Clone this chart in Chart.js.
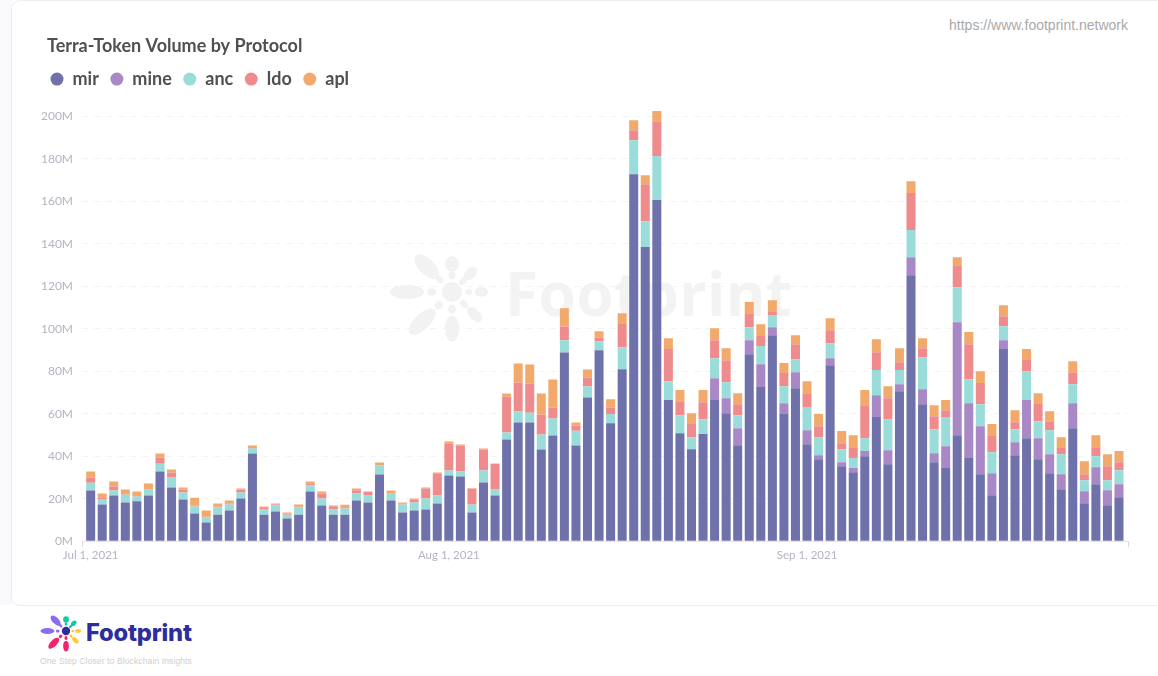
<!DOCTYPE html>
<html><head><meta charset="utf-8">
<script src="https://cdn.jsdelivr.net/npm/chart.js@4"></script>
<style>
html,body{margin:0;padding:0;background:#fff;width:1158px;height:676px;overflow:hidden}
#page{position:relative;width:1158px;height:676px;background:#fff}
#bg{position:absolute;left:0;top:0;width:12px;height:605px;background:#f9f9fb}
#card{position:absolute;left:11px;top:0;width:1160px;height:604px;border:1px solid #eeeef0;border-radius:9px;background:#fff;box-sizing:content-box}
#wmtext{position:absolute;left:505px;top:254px;font:700 60.5px/78px "Open Sans",sans-serif;color:#f3f3f3;letter-spacing:.3px}
#wmlogo{position:absolute;left:400px;top:246px}
#url{position:absolute;right:30px;top:16px;font:14px/18px "Liberation Sans",Arial,sans-serif;color:#a9a9a9}
#logo{position:absolute;left:44px;top:612px}
#brand{position:absolute;left:86px;top:618px;font:800 23.7px/30px "Inter","Open Sans",sans-serif;color:#2d2d9e;letter-spacing:-.2px}
#tag{position:absolute;left:40px;top:655px;font:8.5px/12px "Liberation Sans",Arial,sans-serif;color:#cfcfcf;letter-spacing:.12px}
canvas{position:absolute;left:0;top:0}
</style></head><body>
<div id="page">
<div id="bg"></div><div id="card"></div>
<svg id="wmlogo" width="104" height="92" viewBox="-52 -46 104 92" style="overflow:visible"><g fill="#f2f2f2" id="wmg"></g></svg>
<div id="wmtext">Footprint</div>
<div id="url">https://www.footprint.network</div>
<svg id="logo" width="44" height="38" viewBox="-22 -19 44 38" style="overflow:visible"><g id="lg"></g></svg>
<div id="brand">Footprint</div>
<div id="tag">One Step Closer to Blockchain Insights</div>
<canvas id="c" width="1158" height="676"></canvas>
</div>
<script>
const title = 'Terra-Token Volume by Protocol';
const tickDates = ['2021-07-01','2021-08-01','2021-09-01'];
const tickLabels = ['Jul 1, 2021','Aug 1, 2021','Sep 1, 2021'];
const firstDay = '2021-07-01';
const mir = [23.8,17.3,21.5,18.2,18.8,21.5,32.8,25.3,19.6,13,8.8,12.5,14.4,20.1,41.3,12.5,14,10.7,12.5,23.4,16.8,12.5,12.5,19.1,18.2,31.4,19.1,13.5,14.4,14.9,17.7,30.9,30.4,13.5,27.6,21.5,47.8,55.8,55.8,43.1,49.7,88.8,45,67.6,89.9,55.5,80.9,172.7,138.4,160.5,66.4,50.8,43.3,50.4,66.4,60.2,45.2,88,72.5,96.9,59.8,72,45.6,38.6,82.8,35.3,32.5,40,58.4,36.2,70.6,125.2,64.5,37.2,34.4,49.9,39.1,31.5,21.6,90.4,40.5,48.5,38.6,32,24.5,53.2,17.9,26.8,16.9,20.7];
const mine = [0,0,0,0,0,0,0,0,0,0,0,0,0,0,0,0,0,0,0,0,0,0,0,0,0,0,0,0,0,0,0,0,0,0,0,0,0,0,0,0,0,0,0,0,0,0,0,0,0,0,0,0,0,0,10.3,7.1,8,6.6,10.8,3.8,5.1,7.5,6.6,1.9,3.3,1.9,1.9,2.4,10.3,6.6,3.3,8.4,7,4.2,10.3,53.1,25.8,22.6,10.4,4.2,6.1,17.9,9.9,8.9,7,11.7,5.6,8,7.1,6.1];
const anc = [3.7,2.6,2.3,3.6,2.2,2.8,3.7,4.7,3.3,3.3,2.3,3.3,2.9,2.8,2.3,2.4,2.8,1.8,3.3,2.8,3.3,2.4,2.9,3.3,3.3,4.2,3.3,3.8,3.8,5.2,3.8,2.4,2.4,3.8,5.7,2.8,3.3,5.2,4.7,7.1,8,5.8,7,5.2,4.2,4.3,10.4,16,12.2,20.7,8.9,8.5,5.6,7,9.4,7.5,6.1,6.1,8.5,5.7,8,6.1,10.9,8.4,7.1,6.1,4.7,6.1,11.8,14.6,6.6,12.8,15.1,11.3,13.7,16.5,11.3,10.4,9.9,6.6,6.1,13.6,8,11.3,9.4,9,5.2,5.2,4.7,6.6];
const ldo = [2.5,0.5,1.9,0.3,0.3,0.3,2.9,2.3,1.4,0.5,0.4,0.4,0.3,1.4,0.3,1.1,0.5,0.5,0.4,0.9,2.3,1.6,0.6,1.6,1.6,0.3,0.3,0.3,1.4,4.7,10.5,12.7,12.1,7.5,9.8,12.2,16.9,13.7,13.7,9.4,5.2,6.4,2.4,4.2,1.7,3.1,11.3,4.7,17.4,16.4,15.1,6.6,6.6,8,8.5,10.4,5.2,6.6,4.7,1.8,6.2,7.1,6.5,5.2,6.1,2.8,4.7,15.5,8.4,9.9,3.7,17.4,4.2,6.1,3.2,10.4,16.5,9.9,8,4.7,3.3,5.6,8.4,4.3,3.3,5.6,2.8,4.2,6.6,3.8];
const apl = [2.8,2,2.4,2.2,2.1,2.5,1.9,1.4,1,3.7,2.9,1.5,1.5,0.5,1.1,0.3,0.4,0.5,1.1,1,1,0.3,1.2,0.8,0.3,1.1,1.1,0.6,0.5,0.5,0.3,0.9,0.6,0.1,0.5,0.1,1.5,8.9,8.9,9.9,13.2,8.6,1.4,3.8,3,3.9,4.7,4.7,4.2,4.8,5.1,5.2,4.7,5.7,5.6,5.6,5.1,5.2,5.6,5.2,4.7,4.2,5.7,5.7,5.6,5.7,6.1,7.1,6.1,5.6,6.6,5.6,4.7,5.2,4.8,3.7,5.7,5.6,5.2,5.1,5.6,4.8,4.7,4.7,4.7,5.2,6.1,5.7,5.6,5.2];
const names = ['mir','mine','anc','ldo','apl'];
const colors = ['#6f71aa','#a988c6','#99dcd9','#ef8b8d','#f2aa6c'];
const yTop = 208.5, yStep = 20;

const DAY = 86400000;
const t0 = Date.parse(firstDay);
const days = mir.map((_, i) => t0 + i * DAY);
const tickVals = tickDates.map(d => Date.parse(d));

function petals(g, cols, s){
  const outer = [[180,29,11,4.5],[225,23,10,5],[270,18,5,4.5],[315,17,5,3.5],[0,19,4.5,3],[45,20.5,6,3.5],[90,23.6,8.5,4.5],[135,27,11,5]];
  const inner = [[180,13,3,2.5],[225,11.5,3,2],[270,10.8,2.5,2.2],[315,10,3,2],[0,10.8,2.2,2],[45,11,3,2],[90,11,3,2.5],[135,12,3,2.4]];
  let h = '';
  outer.concat(inner).forEach((p,i)=>{ h += `<ellipse transform="rotate(${p[0]}) translate(${p[1]*s} 0)" rx="${p[2]*s}" ry="${p[3]*s}" fill="${cols[i%8]}"/>`; });
  h += `<circle r="${6.5*s}" fill="${cols[8]}"/>`;
  g.innerHTML = h;
}
petals(document.getElementById('wmg'), Array(9).fill('#f2f2f2'), 1.55);
petals(document.getElementById('lg'), ['#8b6cf0','#8b6cf0','#10c9a8','#10c9a8','#ffc933','#ffc933','#f0246e','#f0246e','#2d2d9e'], 0.64);

const cornerTicks = {
  id: 'cornerTicks',
  afterLayout(chart){ const t = chart.titleBlock; t.right += 47 - t.left; t.left = 47; },
  afterDraw(chart){
    const s = chart.scales.x, c = chart.ctx;
    c.save(); c.strokeStyle = '#d9d9e3'; c.lineWidth = 1;
    [s.left, s.right].forEach(x => { c.beginPath(); c.moveTo(Math.round(x)+.5, s.top); c.lineTo(Math.round(x)+.5, s.top+6); c.stroke(); });
    c.restore();
  }
};

new Chart(document.getElementById('c'), {
  type: 'bar',
  data: {
    labels: days,
    datasets: [mir, mine, anc, ldo, apl].map((d, i) => ({
      label: names[i], data: d, backgroundColor: colors[i], borderWidth: 0,
      stack: 's', categoryPercentage: 1, barPercentage: 0.78
    }))
  },
  plugins: [cornerTicks],
  options: {
    responsive: false, animation: false, devicePixelRatio: 1,
    layout: { padding: { left: 39, right: 30, top: 35, bottom: 107 } },
    plugins: {
      title: { display: true, text: title, align: 'start', color: '#505050',
        font: { family: 'Lato', size: 18, weight: '700' }, padding: { top: 0, bottom: 2 } },
      legend: { display: true, position: 'top', align: 'start',
        labels: { usePointStyle: true, pointStyle: 'circle', boxWidth: 13, boxHeight: 9.2, padding: 11.5,
          color: '#505050', font: { family: 'Lato', size: 18, weight: '700' } } },
      tooltip: { enabled: false }
    },
    scales: {
      x: { type: 'linear', stacked: true, offset: false, min: t0 - 0.75 * DAY, max: t0 + 89.78 * DAY,
        afterBuildTicks(a){ a.ticks = tickVals.map(v => ({ value: v })); },
        grid: { display: false, drawTicks: false, offset: false },
        border: { color: '#e3e3ea', width: 1 },
        ticks: { autoSkip: false, maxRotation: 0, padding: 7, color: '#b4b4c2',
          font: { family: 'Lato', size: 11.5 },
          callback: v => tickLabels[tickVals.indexOf(v)] } },
      y: { stacked: true, min: 0, max: yTop,
        afterBuildTicks(a){ a.ticks = a.ticks.filter(t => t.value % yStep === 0); },
        afterFit(a){ a.width = 43; },
        grid: { color: '#f3f3f5', drawTicks: false },
        border: { display: false, dash: [6,6] },
        ticks: { stepSize: yStep, padding: 9, color: '#b4b4c2', font: { family: 'Lato', size: 12 },
          callback: v => v + 'M' } }
    }
  }
});
</script>
</body></html>
